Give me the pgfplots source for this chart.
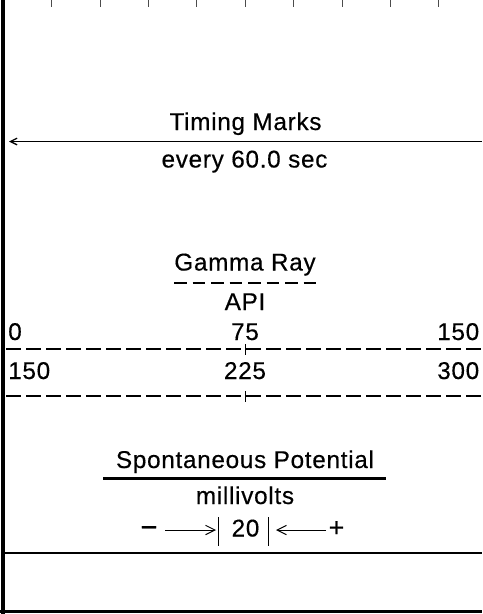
\documentclass[border=0pt]{standalone}
\usepackage{fontspec}
\setmainfont{Liberation Sans}[LetterSpace=3, FakeBold=0.4]
\usepackage{pgfplots}
\pgfplotsset{compat=1.18}
\usetikzlibrary{arrows.meta}
\tikzset{t/.style={anchor=base, inner sep=0pt, font=\fontsize{18.2pt}{21pt}\selectfont}}
\begin{document}
\begin{tikzpicture}
\begin{axis}[name=ax, scale only axis, width=361.5pt, height=460.5pt,
  xmin=0, xmax=482, ymin=0, ymax=614, y dir=reverse, hide axis, clip=false]
% frame
\addplot[black, line width=3.4pt] coordinates {(3,0) (3,614)};
\addplot[black, line width=2.25pt] coordinates {(0,611.5) (482,611.5)};
% top scale ticks
\addplot[black!70, line width=0.8pt, ycomb] coordinates {(51.7,6.5) (100.1,6.5) (148.5,6.5) (196.9,6.5) (245.3,6.5) (293.7,6.5) (342.1,6.5) (390.5,6.5) (438.9,6.5)};
% timing marks
\node[t] at (245.5,130) {Timing Marks};
\addplot[black, line width=1pt, -{Straight Barb[length=5pt,width=5pt]}] coordinates {(482,141.5) (9,141.5)};
\node[t] at (244.5,167.5) {every 60.0 sec};
% gamma ray
\node[t] at (245,270.5) {Gamma Ray};
\addplot[black, line width=1.5pt, dash pattern=on 9.4pt off 4.5pt] coordinates {(174,282.5) (316,282.5)};
\node[t] at (245,310) {API};
\node[t, anchor=base west] at (8,340) {0};
\node[t] at (245,340) {75};
\node[t, anchor=base east] at (479.5,340) {150};
\addplot[black, line width=1.5pt, dash pattern=on 10.9pt off 4.1pt] coordinates {(6,349) (482,349)};
\addplot[black, line width=1.1pt] coordinates {(245.5,344) (245.5,355)};
\node[t, anchor=base west] at (8,379) {150};
\node[t] at (245,379) {225};
\node[t, anchor=base east] at (479.5,379) {300};
\addplot[black, line width=1.5pt, dash pattern=on 10.9pt off 4.1pt] coordinates {(6,395.5) (482,395.5)};
\addplot[black, line width=1.1pt] coordinates {(245.5,391) (245.5,402)};
% spontaneous potential
\node[t] at (245,468) {Spontaneous Potential};
\addplot[black, line width=2pt] coordinates {(103,478.5) (386,478.5)};
\node[t] at (245,504) {millivolts};
\node[t, font=\fontsize{22pt}{24pt}\selectfont] at (149,537) {−};
\addplot[black, line width=0.75pt, -{Straight Barb[length=7pt,width=7pt]}] coordinates {(165,530) (216,530)};
\addplot[black, line width=1.1pt] coordinates {(218.5,517) (218.5,546)};
\node[t] at (245.5,536.5) {20};
\addplot[black, line width=1.1pt] coordinates {(268.5,517) (268.5,546)};
\addplot[black, line width=0.75pt, -{Straight Barb[length=7pt,width=7pt]}] coordinates {(326,530) (276,530)};
\node[t, font=\fontsize{20pt}{22pt}\selectfont] at (336.5,536.5) {+};
\addplot[black, line width=1.9pt] coordinates {(5,553) (482,553)};
\end{axis}
\pgfresetboundingbox
\useasboundingbox (ax.north west) rectangle (ax.south east);
\end{tikzpicture}
\end{document}
